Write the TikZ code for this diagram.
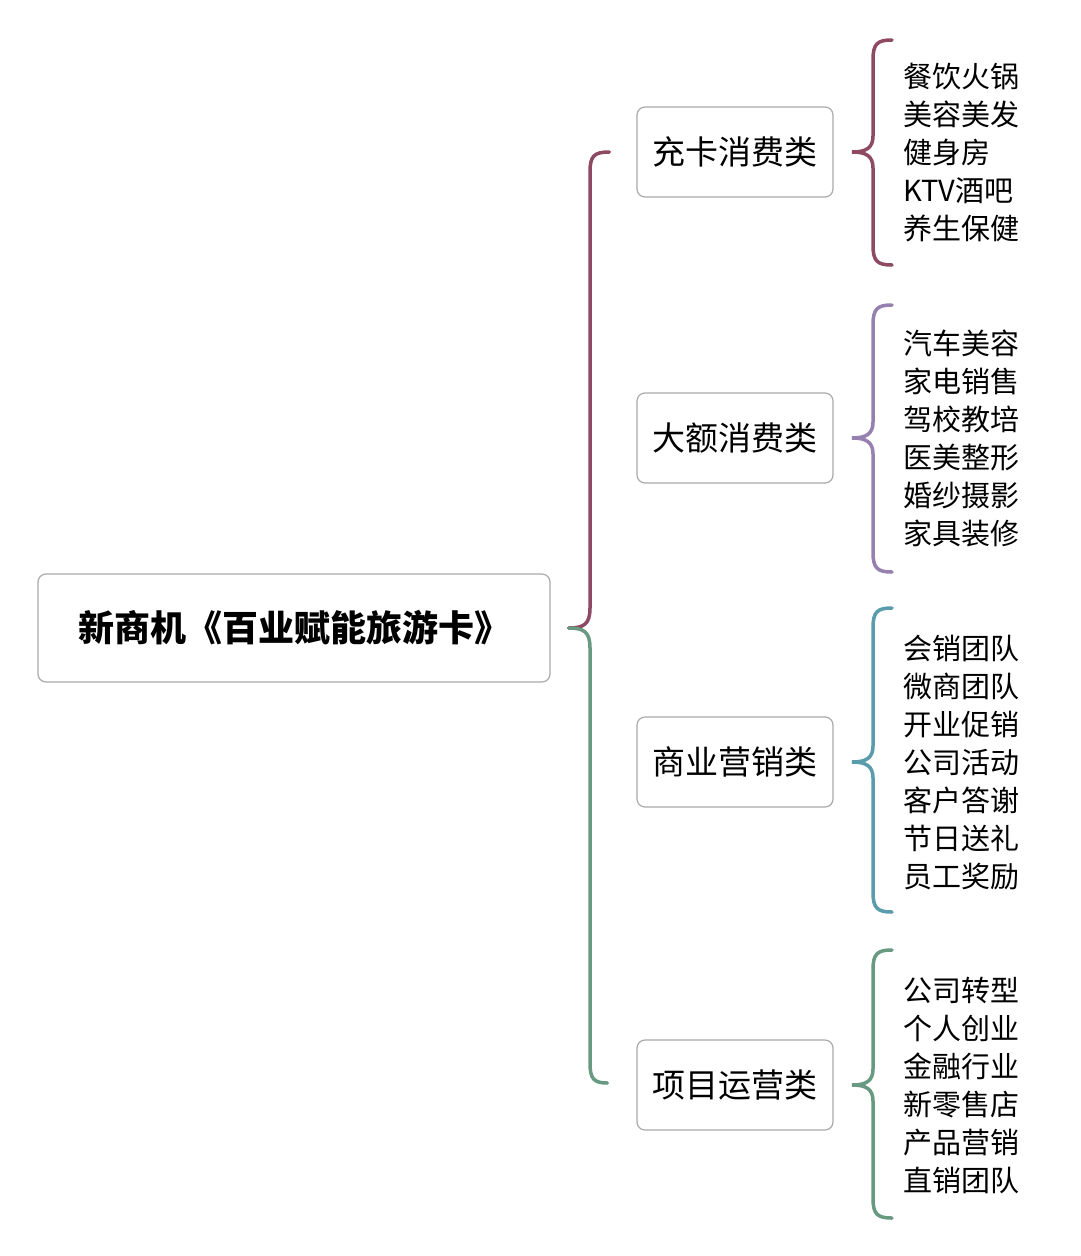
\documentclass[tikz,border=0pt]{standalone}
\usepackage{fontspec}
\newfontfamily\cjk{Noto Sans CJK SC}
\usetikzlibrary{calc}
\definecolor{bred}{RGB}{142,74,98}
\definecolor{bpurple}{RGB}{150,128,176}
\definecolor{bteal}{RGB}{90,155,172}
\definecolor{bgreen}{RGB}{104,154,130}
\definecolor{boxline}{RGB}{170,170,170}
\tikzset{
  rootbox/.style={draw=boxline, line width=1.2pt, rounded corners=8pt, fill=white,
    minimum width=512pt, minimum height=108pt, inner sep=0pt,
    font=\cjk\bfseries\fontsize{36}{42}\selectfont},
  catbox/.style={draw=boxline, line width=1.2pt, rounded corners=8pt, fill=white,
    minimum width=196pt, minimum height=90pt, inner sep=0pt,
    font=\cjk\fontsize{33}{38}\selectfont},
  listtext/.style={anchor=west, align=left, inner sep=0pt,
    font=\cjk\fontsize{29}{38}\selectfont},
  bracel/.style={line width=3.5pt, line cap=round}
}
% right brace: #1 top y, #2 tip y, #3 bottom y, #4 colour
\newcommand\rbrc[4]{%
  \draw[bracel, #4] (892,#1) .. controls (877,#1) and (873,#1+4) .. (873,#1+20)
    -- (873,#2-16) .. controls (873,#2-4) and (866,#2) .. (852,#2)
    .. controls (866,#2) and (873,#2+4) .. (873,#2+16)
    -- (873,#3-20) .. controls (873,#3-4) and (877,#3) .. (892,#3);}
\begin{document}
\begin{tikzpicture}[x=1pt,y=-1pt]
\useasboundingbox (0,0) rectangle (1080,1256);
\fill[white] (0,0) rectangle (1080,1256);

\node[rootbox] (root) at (294,628) {新商机《百业赋能旅游卡》};

\node[catbox] (c1) at (735,152) {充卡消费类};
\node[catbox] (c2) at (735,438) {大额消费类};
\node[catbox] (c3) at (735,762) {商业营销类};
\node[catbox] (c4) at (735,1085) {项目运营类};

% main brace
\coordinate (mtip) at ($(root.east)+(18,0)$);
\coordinate (mtop) at ($(c1.west)+(-27,0)$);
\coordinate (mbot) at ($(c4.west)+(-29,-2)$);
\draw[bracel, bred] (mtop) .. controls (594,152) and (590,156) .. (590,172)
  -- (590,608) .. controls (590,624) and (584,628) .. (mtip);
\draw[bracel, bgreen] (mtip) .. controls (584,628) and (590,632) .. (590,648)
  -- (590,1063) .. controls (590,1079) and (594,1083) .. (mbot);

% right braces
\rbrc{40}{152}{265}{bred}
\rbrc{305}{438}{572}{bpurple}
\rbrc{608}{762}{912}{bteal}
\rbrc{950}{1085}{1218}{bgreen}

\node[listtext] (l1) at (903,153) {餐饮火锅\\美容美发\\健身房\\KTV酒吧\\养生保健};
\node[listtext] (l2) at (903,438.5) {汽车美容\\家电销售\\驾校教培\\医美整形\\婚纱摄影\\家具装修};
\node[listtext] (l3) at (903,762.5) {会销团队\\微商团队\\开业促销\\公司活动\\客户答谢\\节日送礼\\员工奖励};
\node[listtext] (l4) at (903,1085) {公司转型\\个人创业\\金融行业\\新零售店\\产品营销\\直销团队};
\end{tikzpicture}
\end{document}
